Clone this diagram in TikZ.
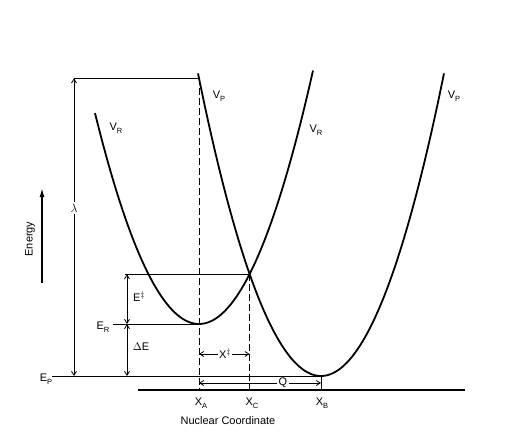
\documentclass[tikz,border=0pt]{standalone}
\usepackage{fontspec}
\setmainfont{Liberation Sans}
\usetikzlibrary{arrows.meta}
\newcommand{\sublab}[2]{#1\raisebox{-0.55ex}{\fontsize{7.5}{8}\selectfont #2}}
\tikzset{
  curve/.style={line width=1.8pt},
  thin line/.style={line width=0.9pt},
  guide/.style={line width=0.9pt, dash pattern=on 7pt off 3pt},
  dim/.style={line width=0.8pt, {Straight Barb[length=4pt,width=5pt]}-{Straight Barb[length=4pt,width=5pt]}},
  lab/.style={font=\fontsize{11}{13}\selectfont, inner sep=1pt},
  onlab/.style={lab, fill=white, inner sep=1.5pt}
}
\begin{document}
\begin{tikzpicture}[x=1pt,y=-1pt]
\useasboundingbox (0,0) rectangle (517,445);
% named coordinates
\coordinate (lamtop) at (74,78.3);
\coordinate (lambot) at (74,376);
\coordinate (xatop) at (199,78.3);
\coordinate (xaER) at (199,324);
\coordinate (xaax) at (199,390);
\coordinate (cross) at (249.6,274.3);
\coordinate (xcax) at (249.6,390);
\coordinate (xbmin) at (321,376);
\coordinate (xbax) at (321,390);
\coordinate (epL) at (52,376);
\coordinate (erL) at (113,324);
\coordinate (etL) at (125,274.3);
\coordinate (dT) at (127,274.3);
\coordinate (dM) at (127,324);
\coordinate (dB) at (127,376);
\coordinate (axL) at (138,390);
\coordinate (axR) at (465,390);
\coordinate (xs1) at (199,354);
\coordinate (xs2) at (249.6,354);
\coordinate (q1) at (199,383);
\coordinate (q2) at (321,383);
\coordinate (enB) at (42,283);
\coordinate (enT) at (42,188);

% parabolas
\draw[curve, domain=95:313, samples=80] plot (\x, {324-0.0195*(\x-199)*(\x-199)});
\draw[curve, domain=198:444, samples=100] plot (\x, {376-0.02*(\x-321)*(\x-321)});

% horizontal levels
\draw[thin line] (lamtop) -- (xatop);
\draw[thin line] (epL) -- (xbmin);
\draw[thin line] (erL) -- (xaER);
\draw[thin line] (etL) -- (cross);
\draw[line width=1.3pt] (axL) -- (axR);

% verticals
\draw[guide] (xatop) -- (xaax);
\draw[guide] (cross) -- (xcax);
\draw[thin line] (xbmin) -- (xbax);

% dimension arrows
\draw[dim] (lamtop) -- (lambot);
\draw[dim] (dT) -- (dM);
\draw[dim] (dM) -- (dB);
\draw[dim] (xs1) -- (xs2);
\draw[dim] (q1) -- (q2);

% energy arrow
\draw[line width=1.4pt, -{Latex[length=9pt,width=5pt]}] (enB) -- (enT);

% labels
\node[onlab, font=\fontsize{13}{15}\selectfont] (lam) at (74,208) {$\lambda$};
\node[onlab] (xs) at (225,354) {X$^{\ddag}$};
\node[onlab] (q) at (283,383) {Q};
\node[lab] (vr1) at (116,128) {\sublab{V}{R}};
\node[lab] (vp1) at (219,96) {\sublab{V}{P}};
\node[lab] (vr2) at (316,130) {\sublab{V}{R}};
\node[lab] (vp2) at (454,96) {\sublab{V}{P}};
\node[lab] (ep) at (46,379) {\sublab{E}{P}};
\node[lab] (er) at (103,327) {\sublab{E}{R}};
\node[lab] (et) at (139,297) {E$^{\ddag}$};
\node[lab] (de) at (141,347) {$\Delta$E};
\node[lab] (xa) at (201,403) {\sublab{X}{A}};
\node[lab] (xc) at (252,403) {\sublab{X}{C}};
\node[lab] (xb) at (322,403) {\sublab{X}{B}};
\node[lab] (nc) at (228,421) {Nuclear Coordinate};
\node[lab, rotate=90] (en) at (30,239) {Energy};
\end{tikzpicture}
\end{document}
